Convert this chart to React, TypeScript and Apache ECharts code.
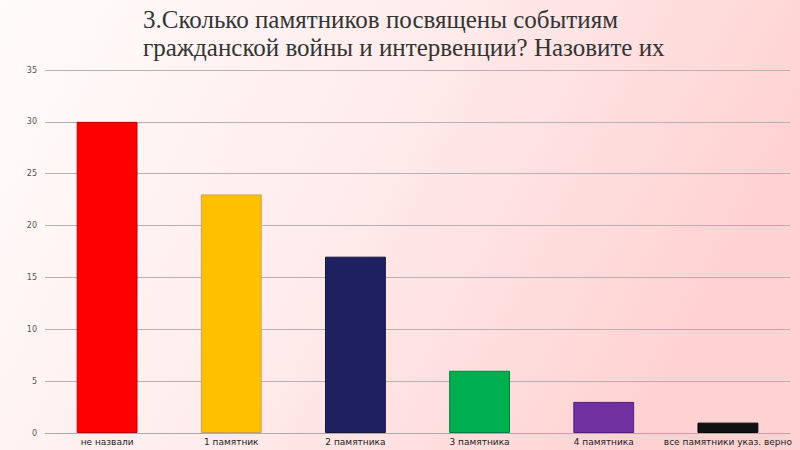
import React, { useEffect, useRef } from "react";
import * as echarts from "echarts";

const categories = ["не назвали", "1 памятник", "2 памятника", "3 памятника", "4 памятника", "все памятники указ. верно"];
const values = [30, 23, 17, 6, 3, 1];
const barColors = ["#ff0000", "#ffc000", "#1f2060", "#00b050", "#7030a0", "#111111"];
const borderColors = ["#c00000", "#c8a060", "#151540", "#00803a", "#502080", "#000000"];
const titleLines = ["3.Сколько памятников посвящены событиям", "гражданской войны и интервенции? Назовите их"];

export default function App() {
  const ref = useRef<HTMLDivElement>(null);
  useEffect(() => {
    const chart = echarts.init(ref.current!, null, { renderer: "svg" });
    chart.setOption({
      animation: false,
      backgroundColor: new echarts.graphic.LinearGradient(0, 0, 1, 0.3, [
        { offset: 0, color: "#fffcfc" },
        { offset: 0.5, color: "#ffecec" },
        { offset: 1, color: "#ffd2d2" },
      ]),
      title: {
        text: titleLines.join("\n"),
        left: 138,
        top: 0,
        textStyle: {
          fontFamily: "Liberation Serif",
          fontWeight: "normal",
          fontSize: 25,
          lineHeight: 28,
          color: "#333333",
        },
      },
      grid: { left: 45, right: 10, top: 70, bottom: 17, containLabel: false },
      xAxis: {
        type: "category",
        data: categories,
        axisLine: { show: true, lineStyle: { color: "#aaaaaa" } },
        axisTick: { show: false },
        axisLabel: { fontSize: 9, color: "#222222", margin: 4, fontFamily: "DejaVu Sans", interval: 0 },
      },
      yAxis: {
        type: "value",
        min: 0,
        max: 35,
        interval: 5,
        axisLine: { show: false },
        axisTick: { show: false },
        axisLabel: { fontSize: 8, color: "#555555", margin: 8, fontFamily: "DejaVu Sans" },
        splitLine: { lineStyle: { color: "#b8b0b0", width: 1 } },
      },
      series: [
        {
          type: "bar",
          barWidth: "49%",
          data: values.map((v, i) => ({
            value: v,
            itemStyle: { color: barColors[i], borderColor: borderColors[i], borderWidth: 1 },
          })),
        },
      ],
    });
    return () => chart.dispose();
  }, []);
  return <div ref={ref} style={{ position: "absolute", left: 0, top: 0, width: 800, height: 450 }} />;
}
